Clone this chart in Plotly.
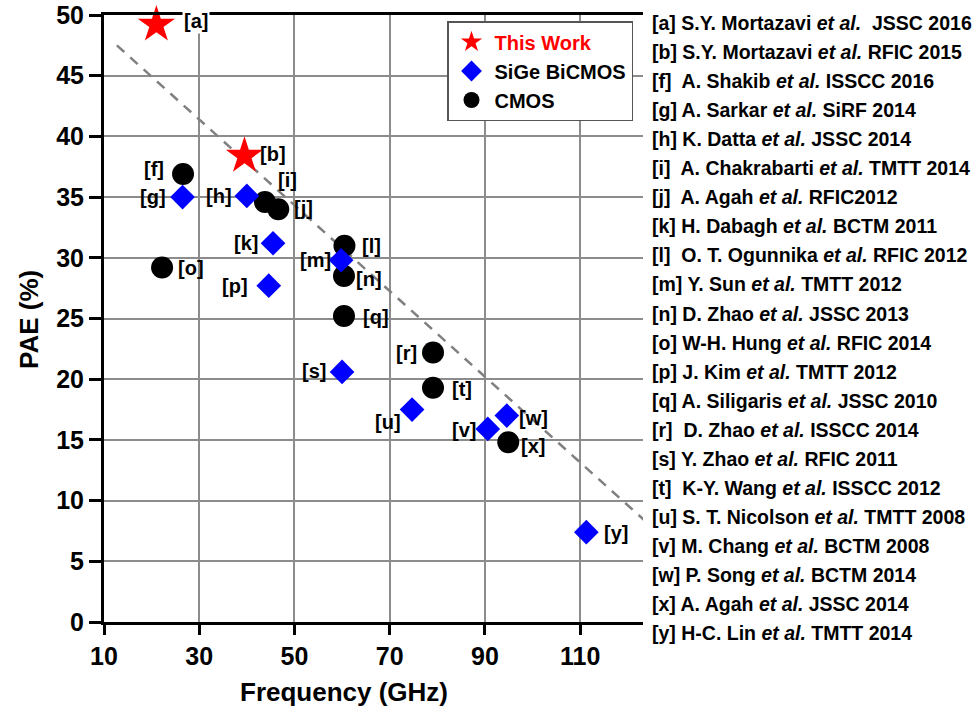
import plotly.graph_objects as go

FONT = "Liberation Sans, Arial, sans-serif"

# This Work
tw_labels = ["[a]", "[b]"]
tw_freq = [21.0, 39.5]
tw_pae = [49.2, 38.4]

# SiGe BiCMOS
sige_labels = ["[g]", "[h]", "[k]", "[p]", "[m]", "[s]", "[u]", "[v]", "[w]", "[y]"]
sige_freq = [26.5, 40.0, 45.5, 44.6, 59.8, 60.0, 74.7, 90.6, 94.6, 111.3]
sige_pae = [35.0, 35.1, 31.2, 27.7, 29.8, 20.6, 17.5, 15.9, 17.0, 7.4]

# CMOS
cmos_labels = ["[f]", "[i]", "[j]", "[o]", "[l]", "[n]", "[q]", "[r]", "[t]", "[x]"]
cmos_freq = [26.6, 43.8, 46.6, 22.2, 60.5, 60.4, 60.4, 79.1, 79.1, 94.9]
cmos_pae = [36.9, 34.6, 34.0, 29.2, 31.0, 28.5, 25.2, 22.2, 19.3, 14.8]

# Trend line
trend_freq = [12.7, 124.0]
trend_pae = [47.5, 8.2]

# Label offsets (pixels) for each point label: (side, xshift, yshift)
label_pos = {
    "[a]": ("left", 26, 4), "[b]": ("left", 14, 2), "[f]": ("right", -17, 5),
    "[g]": ("right", -15, 0), "[h]": ("right", -13, 0), "[i]": ("left", 11, 22),
    "[j]": ("left", 14, 1), "[k]": ("right", -13, 0), "[o]": ("left", 14, 0),
    "[p]": ("right", -19, 0), "[l]": ("left", 16, 0), "[m]": ("right", -8, 0),
    "[n]": ("left", 10, -3), "[q]": ("left", 17, -1), "[s]": ("right", -14, 1),
    "[u]": ("right", -9, -12), "[r]": ("right", -14, -1), "[t]": ("left", 17, -1),
    "[v]": ("right", -10, -1), "[w]": ("left", 10, -2), "[x]": ("left", 11, -4),
    "[y]": ("left", 16, -1),
}

references = [
    "[a] S.Y. Mortazavi <i>et al.</i>  JSSC 2016",
    "[b] S.Y. Mortazavi <i>et al.</i> RFIC 2015",
    "[f]  A. Shakib <i>et al.</i> ISSCC 2016",
    "[g] A. Sarkar <i>et al.</i> SiRF 2014",
    "[h] K. Datta <i>et al.</i> JSSC 2014",
    "[i]  A. Chakrabarti <i>et al.</i> TMTT 2014",
    "[j]  A. Agah <i>et al.</i> RFIC2012",
    "[k] H. Dabagh <i>et al.</i> BCTM 2011",
    "[l]  O. T. Ogunnika <i>et al.</i> RFIC 2012",
    "[m] Y. Sun <i>et al.</i> TMTT 2012",
    "[n] D. Zhao <i>et al.</i> JSSC 2013",
    "[o] W-H. Hung <i>et al.</i> RFIC 2014",
    "[p] J. Kim <i>et al.</i> TMTT 2012",
    "[q] A. Siligaris <i>et al.</i> JSSC 2010",
    "[r]  D. Zhao <i>et al.</i> ISSCC 2014",
    "[s] Y. Zhao <i>et al.</i> RFIC 2011",
    "[t]  K-Y. Wang <i>et al.</i> ISSCC 2012",
    "[u] S. T. Nicolson <i>et al.</i> TMTT 2008",
    "[v] M. Chang <i>et al.</i> BCTM 2008",
    "[w] P. Song <i>et al.</i> BCTM 2014",
    "[x] A. Agah <i>et al.</i> JSSC 2014",
    "[y] H-C. Lin <i>et al.</i> TMTT 2014",
]

x_ticks = [10, 30, 50, 70, 90, 110]
y_ticks = [0, 5, 10, 15, 20, 25, 30, 35, 40, 45, 50]

fig = go.Figure()

fig.add_trace(go.Scatter(
    x=trend_freq, y=trend_pae, mode="lines", showlegend=False,
    line=dict(color="#808080", width=2.5, dash="10px,8px"), cliponaxis=False,
    hoverinfo="skip"))

fig.add_trace(go.Scatter(
    x=cmos_freq, y=cmos_pae, mode="markers", name="<b>CMOS</b>",
    marker=dict(symbol="circle", size=22, color="black"), cliponaxis=False))
fig.add_trace(go.Scatter(
    x=sige_freq, y=sige_pae, mode="markers", name="<b>SiGe BiCMOS</b>",
    marker=dict(symbol="diamond", size=19, color="#0000FF"), cliponaxis=False))
fig.add_trace(go.Scatter(
    x=tw_freq, y=tw_pae, mode="markers",
    name="<b><span style='color:#FF0000'>This Work</span></b>",
    marker=dict(symbol="star", size=28, color="#FF0000", line=dict(width=0)),
    cliponaxis=False))

top_px, bot_px, left_px, right_px = 15, 622, 104, 643
ph = bot_px - top_px
pw = right_px - left_px

annotations = []
for labs, xs, ys in [(tw_labels, tw_freq, tw_pae), (sige_labels, sige_freq, sige_pae),
                     (cmos_labels, cmos_freq, cmos_pae)]:
    for lab, xv, yv in zip(labs, xs, ys):
        side, dx, dy = label_pos[lab]
        annotations.append(dict(
            x=xv, y=yv, xref="x", yref="y", text=f"<b>{lab}</b>", showarrow=False,
            xanchor=side, yanchor="middle", xshift=dx, yshift=dy,
            font=dict(family=FONT, size=20, color="black"),
            bgcolor="white" if lab == "[a]" else "rgba(0,0,0,0)", borderpad=1))

for i, ref in enumerate(references):
    py = 23 + i * 29.05
    annotations.append(dict(
        x=(650 - left_px) / pw, y=(bot_px - py) / ph, xref="paper", yref="paper",
        text=f"<b>{ref}</b>", showarrow=False, xanchor="left", yanchor="middle",
        font=dict(family=FONT, size=19.5, color="black")))

# Axis titles
annotations.append(dict(
    x=(344 - left_px) / pw, y=(bot_px - 692) / ph, xref="paper", yref="paper",
    text="<b>Frequency (GHz)</b>", showarrow=False, xanchor="center", yanchor="middle",
    font=dict(family=FONT, size=26, color="black")))
annotations.append(dict(
    x=(29 - left_px) / pw, y=(bot_px - 320) / ph, xref="paper", yref="paper",
    text="<b>PAE (%)</b>", showarrow=False, xanchor="center", yanchor="middle",
    textangle=-90, font=dict(family=FONT, size=26, color="black")))

fig.update_layout(
    width=979, height=713,
    margin=dict(l=left_px, r=979 - right_px, t=top_px, b=713 - bot_px),
    paper_bgcolor="white", plot_bgcolor="white",
    font=dict(family=FONT, color="black"),
    annotations=annotations,
    legend=dict(
        x=(447 - left_px) / pw, y=(bot_px - 21) / ph, xanchor="left", yanchor="top",
        bgcolor="white", bordercolor="#555555", borderwidth=1.5,
        font=dict(family=FONT, size=20, color="black"),
        traceorder="reversed", itemsizing="trace", itemwidth=36,
        tracegroupgap=0),
    xaxis=dict(
        range=[10, 123.2], tickvals=x_ticks, ticktext=[f"<b>{v}</b>" for v in x_ticks],
        showgrid=True, gridcolor="#8c8c8c", gridwidth=1.5,
        showline=True, linecolor="black", linewidth=3, mirror=True,
        ticks="outside", ticklen=10, tickwidth=2.5, tickcolor="black",
        tickfont=dict(family=FONT, size=25, color="black"),
        automargin=False, zeroline=False),
    yaxis=dict(
        range=[0, 50], tickvals=y_ticks, ticktext=[f"<b>{v}</b>" for v in y_ticks],
        showgrid=True, gridcolor="#8c8c8c", gridwidth=1.5,
        showline=True, linecolor="black", linewidth=3,
        ticks="outside", ticklen=12, tickwidth=2.5, tickcolor="black",
        tickfont=dict(family=FONT, size=25, color="black"),
        automargin=False, zeroline=False),
)

fig.write_html("out.html")
